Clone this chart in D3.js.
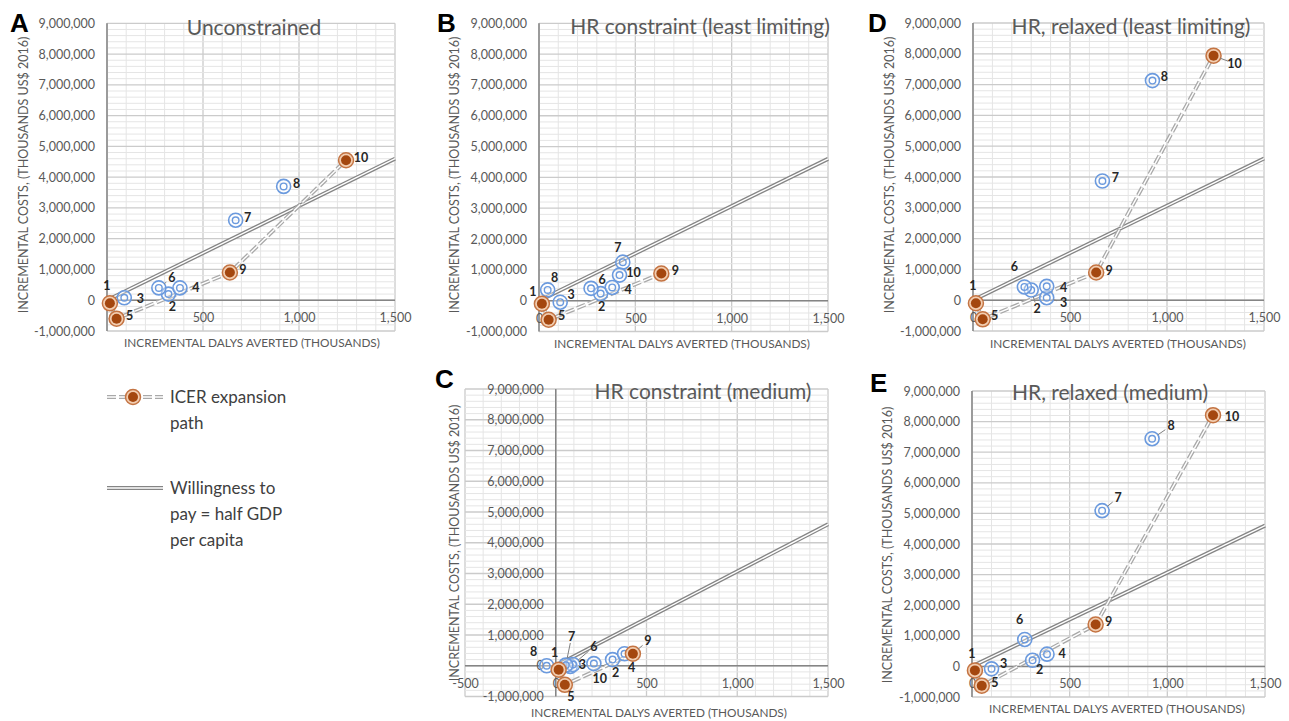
<!DOCTYPE html>
<html>
<head>
<meta charset="utf-8">
<script src="https://cdn.jsdelivr.net/npm/d3@7"></script>
<style>
body { margin: 0; background: #fff; }
svg { display: block; }
</style>
</head>
<body>
<svg id="viz"></svg>
<script>
var width = 1289;
var height = 721;

var svg = d3.select("#viz")
	.attr("width", width)
	.attr("height", height)

var FONT = "Lato, 'Open Sans', sans-serif";

// ---- data (incremental DALYs averted in thousands, incremental costs in thousands US$ 2016)
var interventions = [1, 2, 3, 4, 5, 6, 7, 8, 9, 10];

var dalysA = [15, 320, 90, 380, 50, 270, 670, 920, 640, 1245];
var costsA = [-100000, 200000, 80000, 400000, -600000, 400000, 2600000, 3700000, 900000, 4550000];
var pathA = [1, 5, 9, 10];

var dalysB = [15, 320, 110, 380, 50, 270, 435, 45, 635, 418];
var costsB = [-100000, 230000, -50000, 430000, -620000, 400000, 1250000, 350000, 880000, 830000];
var pathB = [1, 5, 9];

var dalysC = [16, 313, 80, 379, 50, 95, 55, -50, 425, 210];
var costsC = [-130000, 200000, -20000, 390000, -620000, 40000, 20000, 0, 390000, 70000];
var pathC = [1, 5, 9];

var dalysD = [15, 300, 380, 380, 50, 265, 667, 925, 635, 1240];
var costsD = [-100000, 330000, 80000, 450000, -620000, 430000, 3870000, 7130000, 900000, 7940000];
var pathD = [1, 5, 9, 10];

var dalysE = [15, 310, 100, 384, 50, 270, 666, 922, 633, 1234];
var costsE = [-130000, 200000, -80000, 400000, -630000, 880000, 5090000, 7440000, 1370000, 8210000];
var pathE = [1, 5, 9, 10];

// willingness to pay = half GDP per capita
var wtpDalys = [0, 1500];
var wtpCosts = [0, 4600000];

var xTicks = [0, 500, 1000, 1500];
var xTickLabels = ["0", "500", "1,000", "1,500"];
var xTicksA = [500, 1000, 1500];
var xTickLabelsA = ["500", "1,000", "1,500"];
var xTicksC = [-500, 0, 500, 1000, 1500];
var xTickLabelsC = ["-500", "0", "500", "1,000", "1,500"];
var yTicks = [-1000000, 0, 1000000, 2000000, 3000000, 4000000, 5000000, 6000000, 7000000, 8000000, 9000000];
var yTickLabels = ["-1,000,000", "0", "1,000,000", "2,000,000", "3,000,000", "4,000,000",
	"5,000,000", "6,000,000", "7,000,000", "8,000,000", "9,000,000"];

var xTitle = "INCREMENTAL DALYS AVERTED (THOUSANDS)";
var yTitle = "INCREMENTAL COSTS, (THOUSANDS US$ 2016)";

// ---- label placement (pixel offsets from the marker, leader line flag)
var labelsA = [[-3,-18],[4,13],[16,1],[16,0],[13,-3],[13,-10,1],[12,-3],[13,-3],[13,-3],[15,-3]];
var labelsB = [[-9,-12],[1,13],[11,-8],[16,2],[13,-4],[11,-9],[-5,-15],[7,-12],[14,-3],[14,-2]];
var labelsC = [[-4,-17],[3,13],[12,-2],[7,14],[6,12],[21,-18,1],[6,-29,1],[-13,-14],[15,-13,1],[6,15]];
var labelsD = [[-3,-18],[6,19,1],[17,5,1],[17,1],[12,-4],[-10,-20],[13,-3],[12,-4],[13,-2],[21,8,1]];
var labelsE = [[-3,-17],[7,9],[12,-5],[15,-1],[13,-3],[-5,-20],[16,-13,1],[19,-13,1],[13,-3],[19,1]];

var panels = [
	{letter: "A", title: "Unconstrained", dalys: dalysA, costs: costsA, path: pathA, labels: labelsA,
	 xDomain: [0, 1500], xRange: [107, 395], yRange: [331, 23.3], ticks: xTicksA, tickLabels: xTickLabelsA,
	 letterXY: [10, 32], titleXY: [254, 35], xTitleXY: [252, 347], yTitleXY: [24, 175]},
	{letter: "B", title: "HR constraint (least limiting)", dalys: dalysB, costs: costsB, path: pathB, labels: labelsB,
	 xDomain: [0, 1500], xRange: [539, 828], yRange: [331.5, 23.3], ticks: xTicks, tickLabels: xTickLabels,
	 letterXY: [437, 32], titleXY: [700, 34], xTitleXY: [682, 348], yTitleXY: [455, 175]},
	{letter: "C", title: "HR constraint (medium)", dalys: dalysC, costs: costsC, path: pathC, labels: labelsC,
	 xDomain: [-500, 1500], xRange: [465, 828], yRange: [696.5, 389], ticks: xTicksC, tickLabels: xTickLabelsC,
	 letterXY: [435, 388], titleXY: [703, 399], xTitleXY: [659, 717], yTitleXY: [455, 543]},
	{letter: "D", title: "HR, relaxed (least limiting)", dalys: dalysD, costs: costsD, path: pathD, labels: labelsD,
	 xDomain: [0, 1500], xRange: [973, 1264], yRange: [331, 23], ticks: xTicks, tickLabels: xTickLabels,
	 letterXY: [868, 32], titleXY: [1131, 34], xTitleXY: [1118, 348], yTitleXY: [890, 175]},
	{letter: "E", title: "HR, relaxed (medium)", dalys: dalysE, costs: costsE, path: pathE, labels: labelsE,
	 xDomain: [0, 1500], xRange: [972, 1265], yRange: [697, 391], ticks: xTicks, tickLabels: xTickLabels,
	 letterXY: [870, 392], titleXY: [1110, 400], xTitleXY: [1117, 713], yTitleXY: [888, 545]}
];

var line = d3.line();

function doubleLine(g, pts, dashed, outerColor) {
	var outer = g.append("path")
		.attr("d", line(pts))
		.style("fill", "none")
		.style("stroke", outerColor)
		.style("stroke-width", 4)
	var inner = g.append("path")
		.attr("d", line(pts))
		.style("fill", "none")
		.style("stroke", "#fff")
		.style("stroke-width", 1.4)
	if (dashed) {
		outer.style("stroke-dasharray", "9,3");
		inner.style("stroke-dasharray", "9,3");
	}
}

function marker(g, cx, cy, onPath) {
	if (onPath) {
		g.append("circle").attr("cx", cx).attr("cy", cy).attr("r", 7.5)
			.style("fill", "#f2cdb0").style("stroke", "#c47443").style("stroke-width", 1.5)
		g.append("circle").attr("cx", cx).attr("cy", cy).attr("r", 5)
			.style("fill", "#a4470f")
	} else {
		g.append("circle").attr("cx", cx).attr("cy", cy).attr("r", 7)
			.style("fill", "rgba(255,255,255,0.35)").style("stroke", "#6b9ade").style("stroke-width", 1.6)
		g.append("circle").attr("cx", cx).attr("cy", cy).attr("r", 3.3)
			.style("fill", "none").style("stroke", "#6b9ade").style("stroke-width", 1.4)
	}
}

function drawPanel(p) {
	var x = d3.scaleLinear().domain(p.xDomain).range(p.xRange);
	var y = d3.scaleLinear().domain([-1000000, 9000000]).range(p.yRange);
	var g = svg.append("g").attr("class", "panel-" + p.letter);

	// gridlines
	var grid = g.append("g");
	grid.selectAll(".vgrid")
		.data(d3.range(p.xDomain[0], p.xDomain[1] + 1, 100))
		.join("line")
		.attr("x1", d => x(d)).attr("x2", d => x(d))
		.attr("y1", y(-1000000)).attr("y2", y(9000000))
		.style("stroke", d => d % 500 === 0 ? "#cbcbcb" : "#e5e5e5")
		.style("stroke-width", d => d % 500 === 0 ? 1.3 : 1)
	grid.selectAll(".hgrid")
		.data(d3.range(-1000000, 9000001, 200000))
		.join("line")
		.attr("x1", x(p.xDomain[0])).attr("x2", x(p.xDomain[1]))
		.attr("y1", d => y(d)).attr("y2", d => y(d))
		.style("stroke", d => d % 1000000 === 0 ? "#cbcbcb" : "#e5e5e5")
		.style("stroke-width", d => d % 1000000 === 0 ? 1.3 : 1)

	// zero axes
	g.append("line")
		.attr("x1", x(0)).attr("x2", x(0)).attr("y1", y(-1000000)).attr("y2", y(9000000))
		.style("stroke", "#858585").style("stroke-width", 1.5)
	g.append("line")
		.attr("x1", x(p.xDomain[0])).attr("x2", x(p.xDomain[1])).attr("y1", y(0)).attr("y2", y(0))
		.style("stroke", "#858585").style("stroke-width", 1.5)

	// tick labels
	var yAxis = g.append("g")
		.attr("transform", "translate(" + x(0) + ",0)")
		.call(d3.axisLeft(y).tickValues(yTicks).tickFormat((d, i) => yTickLabels[i]).tickSize(0).tickPadding(12))
	var xAxis = g.append("g")
		.attr("transform", "translate(0," + y(0) + ")")
		.call(d3.axisBottom(x).tickValues(p.ticks).tickFormat((d, i) => p.tickLabels[i]).tickSize(0).tickPadding(13))
	;[yAxis, xAxis].forEach(a => {
		a.select(".domain").remove();
		a.selectAll("text")
			.style("font-family", FONT).style("font-size", "12.5px").style("fill", "#595959")
	})

	// willingness to pay
	doubleLine(g, wtpDalys.map((d, i) => [x(d), y(wtpCosts[i])]), false, "#858585");

	// ICER expansion path
	var pathPts = p.path.map(id => [x(p.dalys[id - 1]), y(p.costs[id - 1])]);
	doubleLine(g, pathPts, true, "#a9a9a9");

	// markers: dominated first, path points on top
	var order = interventions.slice().sort((a, b) => (p.path.indexOf(a) >= 0) - (p.path.indexOf(b) >= 0));
	order.forEach(id => {
		marker(g, x(p.dalys[id - 1]), y(p.costs[id - 1]), p.path.indexOf(id) >= 0);
	})

	// point labels
	interventions.forEach((id, i) => {
		var cx = x(p.dalys[i]), cy = y(p.costs[i]);
		var off = p.labels[i];
		var lx = cx + off[0], ly = cy + off[1];
		if (off[2]) {
			var len = Math.sqrt(off[0] * off[0] + off[1] * off[1]);
			var ux = off[0] / len, uy = off[1] / len;
			g.append("line")
				.attr("x1", cx + ux * 7).attr("y1", cy + uy * 7)
				.attr("x2", lx - ux * 7).attr("y2", ly - uy * 7)
				.style("stroke", "#7f7f7f").style("stroke-width", 1)
		}
		g.append("text")
			.attr("x", lx).attr("y", ly)
			.attr("dy", "0.35em")
			.attr("text-anchor", "middle")
			.style("font-family", FONT).style("font-size", "12.5px").style("font-weight", "bold")
			.style("fill", "#262626")
			.text(id)
	})

	// titles
	g.append("text")
		.attr("x", p.titleXY[0]).attr("y", p.titleXY[1])
		.attr("text-anchor", "middle")
		.style("font-family", FONT).style("font-size", "21px").style("fill", "#595959")
		.text(p.title)
	g.append("text")
		.attr("x", p.xTitleXY[0]).attr("y", p.xTitleXY[1])
		.attr("text-anchor", "middle")
		.style("font-family", FONT).style("font-size", "11.8px").style("fill", "#595959")
		.text(xTitle)
	g.append("text")
		.attr("transform", "translate(" + p.yTitleXY[0] + "," + p.yTitleXY[1] + ") rotate(-90)")
		.attr("dy", "0.35em")
		.attr("text-anchor", "middle")
		.style("font-family", FONT).style("font-size", "12.5px").style("fill", "#595959")
		.text(yTitle)
	g.append("text")
		.attr("x", p.letterXY[0]).attr("y", p.letterXY[1])
		.style("font-family", "'Liberation Sans', Arial, sans-serif").style("font-size", "26px")
		.style("font-weight", "bold").style("fill", "#000")
		.text(p.letter)
}

panels.forEach(drawPanel);

// legend
var legend = svg.append("g").attr("class", "legend");
doubleLine(legend, [[107, 397], [163, 397]], true, "#a9a9a9");
marker(legend, 133, 397, true);
doubleLine(legend, [[107, 488], [163, 488]], false, "#858585");

var legendText = [
	{lines: ["ICER expansion", "path"], y: 397},
	{lines: ["Willingness to", "pay = half GDP", "per capita"], y: 488}
];
legendText.forEach(item => {
	item.lines.forEach((t, i) => {
		legend.append("text")
			.attr("x", 170).attr("y", item.y + i * 26)
			.attr("dy", "0.35em")
			.style("font-family", FONT).style("font-size", "17px").style("fill", "#404040")
			.text(t)
	})
})
</script>
</body>
</html>
